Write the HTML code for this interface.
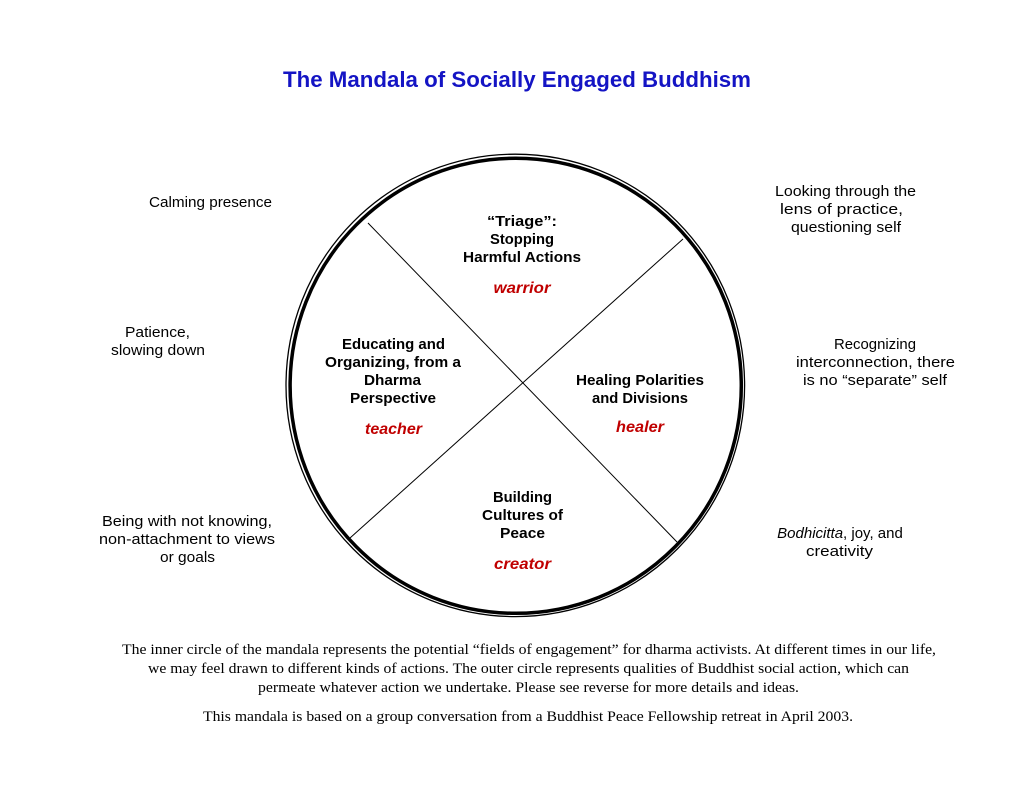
<!DOCTYPE html>
<html>
<head>
<meta charset="utf-8">
<style>
  html, body { margin: 0; padding: 0; background: #ffffff; }
  body { width: 1035px; height: 800px; overflow: hidden; }
  svg { display: block; }
  .t { font-family: "Liberation Sans", "DejaVu Sans", sans-serif; font-size: 15px; fill: #000; }
  .b { font-weight: bold; }
  .r { font-weight: bold; font-style: italic; fill: #c00000; font-size: 15.5px; }
  .cap { font-family: "Liberation Serif", "DejaVu Serif", serif; font-size: 15px; fill: #000; }
</style>
</head>
<body>
<svg width="1035" height="800" viewBox="0 0 1035 800" xmlns="http://www.w3.org/2000/svg">
  <rect x="0" y="0" width="1035" height="800" fill="#ffffff"/>

  <!-- Title -->
  <text x="517" y="87" text-anchor="middle" font-family="Liberation Sans, DejaVu Sans, sans-serif" font-weight="bold" font-size="22" fill="#1414c4" textLength="468" lengthAdjust="spacingAndGlyphs">The Mandala of Socially Engaged Buddhism</text>

  <!-- Circle: thin outer + thick inner -->
  <ellipse cx="515.3" cy="385.4" rx="229.3" ry="231.2" fill="none" stroke="#000" stroke-width="1.3"/>
  <ellipse cx="515.7" cy="385.8" rx="225.6" ry="227.5" fill="none" stroke="#000" stroke-width="3.5"/>

  <!-- Diagonal dividers -->
  <line x1="368" y1="223" x2="677" y2="542" stroke="#000" stroke-width="1"/>
  <line x1="683" y1="239" x2="350" y2="538" stroke="#000" stroke-width="1"/>

  <!-- Inner: top -->
  <text class="t b" x="522" y="226" text-anchor="middle" textLength="70" lengthAdjust="spacingAndGlyphs">“Triage”:</text>
  <text class="t b" x="522" y="244" text-anchor="middle" textLength="64" lengthAdjust="spacingAndGlyphs">Stopping</text>
  <text class="t b" x="522" y="262" text-anchor="middle" textLength="118" lengthAdjust="spacingAndGlyphs">Harmful Actions</text>
  <text class="t r" x="522" y="293" text-anchor="middle" textLength="57" lengthAdjust="spacingAndGlyphs">warrior</text>

  <!-- Inner: left -->
  <text class="t b" x="393.5" y="349" text-anchor="middle" textLength="103" lengthAdjust="spacingAndGlyphs">Educating and</text>
  <text class="t b" x="393" y="367" text-anchor="middle" textLength="136" lengthAdjust="spacingAndGlyphs">Organizing, from a</text>
  <text class="t b" x="392.5" y="385" text-anchor="middle" textLength="57" lengthAdjust="spacingAndGlyphs">Dharma</text>
  <text class="t b" x="393" y="403" text-anchor="middle" textLength="86" lengthAdjust="spacingAndGlyphs">Perspective</text>
  <text class="t r" x="393.5" y="434" text-anchor="middle" textLength="57" lengthAdjust="spacingAndGlyphs">teacher</text>

  <!-- Inner: right -->
  <text class="t b" x="640" y="385" text-anchor="middle" textLength="128" lengthAdjust="spacingAndGlyphs">Healing Polarities</text>
  <text class="t b" x="640" y="403" text-anchor="middle" textLength="96" lengthAdjust="spacingAndGlyphs">and Divisions</text>
  <text class="t r" x="640" y="432" text-anchor="middle" textLength="48" lengthAdjust="spacingAndGlyphs">healer</text>

  <!-- Inner: bottom -->
  <text class="t b" x="522.5" y="502" text-anchor="middle" textLength="59" lengthAdjust="spacingAndGlyphs">Building</text>
  <text class="t b" x="522.5" y="520" text-anchor="middle" textLength="81" lengthAdjust="spacingAndGlyphs">Cultures of</text>
  <text class="t b" x="522.5" y="538" text-anchor="middle" textLength="45" lengthAdjust="spacingAndGlyphs">Peace</text>
  <text class="t r" x="522.5" y="569" text-anchor="middle" textLength="57" lengthAdjust="spacingAndGlyphs">creator</text>

  <!-- Outer: left -->
  <text class="t" x="210.5" y="207" text-anchor="middle" textLength="123" lengthAdjust="spacingAndGlyphs">Calming presence</text>
  <text class="t" x="157.5" y="337" text-anchor="middle" textLength="65" lengthAdjust="spacingAndGlyphs">Patience,</text>
  <text class="t" x="158" y="355" text-anchor="middle" textLength="94" lengthAdjust="spacingAndGlyphs">slowing down</text>
  <text class="t" x="187" y="526" text-anchor="middle" textLength="170" lengthAdjust="spacingAndGlyphs">Being with not knowing,</text>
  <text class="t" x="187" y="544" text-anchor="middle" textLength="176" lengthAdjust="spacingAndGlyphs">non-attachment to views</text>
  <text class="t" x="187.5" y="562" text-anchor="middle" textLength="55" lengthAdjust="spacingAndGlyphs">or goals</text>

  <!-- Outer: right -->
  <text class="t" x="845.5" y="196" text-anchor="middle" textLength="141" lengthAdjust="spacingAndGlyphs">Looking through the</text>
  <text class="t" x="841.5" y="214" text-anchor="middle" textLength="123" lengthAdjust="spacingAndGlyphs">lens of practice,</text>
  <text class="t" x="846" y="232" text-anchor="middle" textLength="110" lengthAdjust="spacingAndGlyphs">questioning self</text>
  <text class="t" x="875" y="349" text-anchor="middle" textLength="82" lengthAdjust="spacingAndGlyphs">Recognizing</text>
  <text class="t" x="875.5" y="367" text-anchor="middle" textLength="159" lengthAdjust="spacingAndGlyphs">interconnection, there</text>
  <text class="t" x="875" y="385" text-anchor="middle" textLength="144" lengthAdjust="spacingAndGlyphs">is no “separate” self</text>
  <text class="t" x="840" y="538" text-anchor="middle"><tspan font-style="italic">Bodhicitta</tspan>, joy, and</text>
  <text class="t" x="839.5" y="556" text-anchor="middle" textLength="67" lengthAdjust="spacingAndGlyphs">creativity</text>

  <!-- Caption -->
  <text class="cap" x="529" y="654" text-anchor="middle" textLength="814" lengthAdjust="spacingAndGlyphs">The inner circle of the mandala represents the potential “fields of engagement” for dharma activists. At different times in our life,</text>
  <text class="cap" x="528.5" y="673" text-anchor="middle" textLength="761" lengthAdjust="spacingAndGlyphs">we may feel drawn to different kinds of actions. The outer circle represents qualities of Buddhist social action, which can</text>
  <text class="cap" x="528.5" y="692" text-anchor="middle" textLength="541" lengthAdjust="spacingAndGlyphs">permeate whatever action we undertake. Please see reverse for more details and ideas.</text>
  <text class="cap" x="528" y="721" text-anchor="middle" textLength="650" lengthAdjust="spacingAndGlyphs">This mandala is based on a group conversation from a Buddhist Peace Fellowship retreat in April 2003.</text>
</svg>
</body>
</html>
